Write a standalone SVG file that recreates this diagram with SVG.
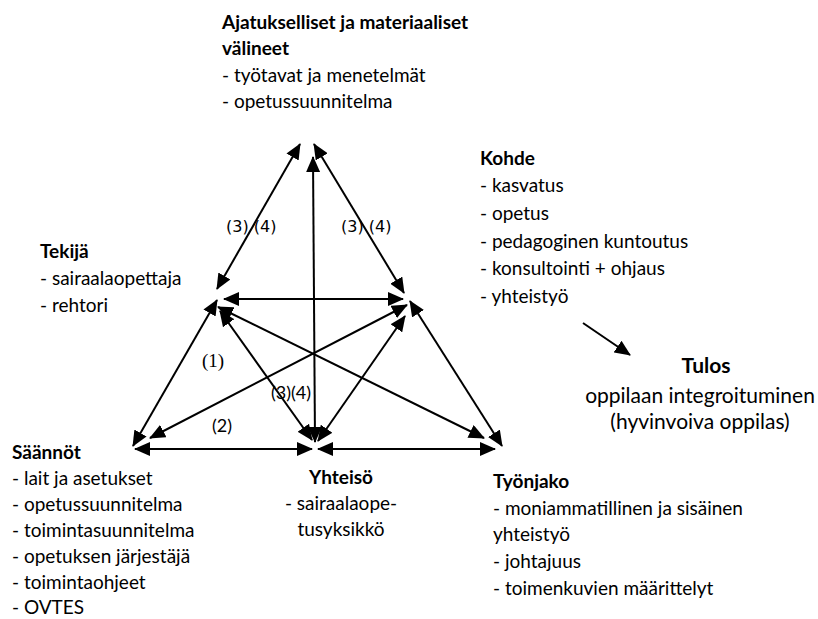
<svg xmlns="http://www.w3.org/2000/svg" width="818" height="619" viewBox="0 0 818 619">
  <style>
    .t { font-family: Lato, "Liberation Sans", sans-serif; font-size: 19px; fill: #000; }
    .r { font-size: 21px; }
    .b { font-weight: bold; }
    .c { text-anchor: middle; }
    .lbl { font-family: "DejaVu Sans", sans-serif; font-size: 16px; fill: #000; }
    .lbl2 { font-family: Lato, "Liberation Sans", sans-serif; font-size: 18px; fill: #000; }
    .lbl1 { font-family: "Liberation Serif", serif; font-size: 19px; fill: #000; }
    .edge { stroke: #000; stroke-width: 2; fill: none; marker-start: url(#ah); marker-end: url(#ah); }
    .one { stroke: #000; stroke-width: 2; fill: none; marker-end: url(#ah); }
  </style>
  <defs>
    <marker id="ah" markerUnits="userSpaceOnUse" markerWidth="16" markerHeight="14" refX="15" refY="7" orient="auto-start-reverse">
      <path d="M0,0 L16,7 L0,14 z" fill="#000"/>
    </marker>
  </defs>
  <rect width="818" height="619" fill="#fff"/>

  <!-- connectors: outer triangle, inner triangle and the three cross lines -->
  <g id="connectors">
    <line class="edge" x1="300" y1="144" x2="217" y2="289"/>
    <line class="edge" x1="314" y1="144" x2="404" y2="293"/>
    <line class="edge" x1="313" y1="157" x2="315" y2="442"/>
    <line class="edge" x1="224" y1="299" x2="403" y2="299"/>
    <line class="edge" x1="217" y1="300" x2="133" y2="446"/>
    <line class="edge" x1="135" y1="449" x2="312" y2="449"/>
    <line class="edge" x1="318" y1="449" x2="495" y2="449"/>
    <line class="edge" x1="410" y1="301" x2="502" y2="446"/>
    <line class="edge" x1="407" y1="305" x2="150" y2="438"/>
    <line class="edge" x1="218" y1="307" x2="484" y2="438"/>
    <line class="edge" x1="220" y1="311" x2="312" y2="440"/>
    <line class="edge" x1="405" y1="316" x2="318" y2="441"/>
    <line class="one" x1="583" y1="323" x2="630" y2="355"/>
  </g>

  <!-- edge labels -->
  <g id="edge-labels">
    <text class="lbl" x="226" y="232">(3) (4)</text>
    <text class="lbl" x="341" y="232">(3) (4)</text>
    <text class="lbl1" x="202" y="367">(1)</text>
    <text class="lbl2" x="212" y="432">(2)</text>
    <text class="lbl2" x="271" y="399">(3)(4)</text>
  </g>

  <g id="node-valineet">
    <text class="t b" x="222" y="29">Ajatukselliset ja materiaaliset</text>
    <text class="t b" x="222" y="55">välineet</text>
    <text class="t" x="222" y="82">- työtavat ja menetelmät</text>
    <text class="t" x="222" y="108">- opetussuunnitelma</text>
  </g>

  <g id="node-kohde">
    <text class="t b" x="480" y="165">Kohde</text>
    <text class="t" x="480" y="192">- kasvatus</text>
    <text class="t" x="480" y="220">- opetus</text>
    <text class="t" x="480" y="248">- pedagoginen kuntoutus</text>
    <text class="t" x="480" y="275">- konsultointi + ohjaus</text>
    <text class="t" x="480" y="303">- yhteistyö</text>
  </g>

  <g id="node-tekija">
    <text class="t b" x="40" y="258">Tekijä</text>
    <text class="t" x="40" y="285">- sairaalaopettaja</text>
    <text class="t" x="40" y="312">- rehtori</text>
  </g>

  <g id="node-tulos">
    <text class="t r b c" x="706" y="373">Tulos</text>
    <text class="t r c" x="700" y="403">oppilaan integroituminen</text>
    <text class="t r c" x="700" y="429">(hyvinvoiva oppilas)</text>
  </g>

  <g id="node-saannot">
    <text class="t b" x="12" y="459">Säännöt</text>
    <text class="t" x="12" y="485">- lait ja asetukset</text>
    <text class="t" x="12" y="511">- opetussuunnitelma</text>
    <text class="t" x="12" y="537">- toimintasuunnitelma</text>
    <text class="t" x="12" y="563">- opetuksen järjestäjä</text>
    <text class="t" x="12" y="589">- toimintaohjeet</text>
    <text class="t" x="12" y="614">- OVTES</text>
  </g>

  <g id="node-yhteiso">
    <text class="t b c" x="341" y="484">Yhteisö</text>
    <text class="t c" x="341" y="510">- sairaalaope-</text>
    <text class="t c" x="341" y="536">tusyksikkö</text>
  </g>

  <g id="node-tyonjako">
    <text class="t b" x="493" y="488">Työnjako</text>
    <text class="t" x="493" y="515">- moniammatillinen ja sisäinen</text>
    <text class="t" x="493" y="541">yhteistyö</text>
    <text class="t" x="493" y="568">- johtajuus</text>
    <text class="t" x="493" y="595">- toimenkuvien määrittelyt</text>
  </g>
</svg>
